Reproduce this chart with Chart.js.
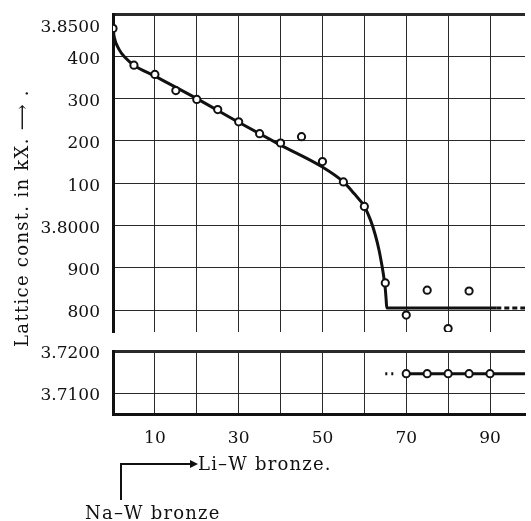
<!DOCTYPE html>
<html>
<head>
<meta charset="utf-8">
<script src="https://cdn.jsdelivr.net/npm/chart.js@4"></script>
<style>
    html, body { margin: 0; padding: 0; background: #fff; }
    #wrap { position: relative; width: 531px; height: 521px; overflow: hidden; font-family: 'DejaVu Serif', serif; color: #111; }
    #topBox { position: absolute; left: 0; top: 0; width: 531px; height: 340px; }
    #botBox { position: absolute; left: 0; top: 340px; width: 531px; height: 181px; }
    .txt { position: absolute; font-size: 18px; white-space: nowrap; line-height: 1; letter-spacing: 1.2px; }
    #yTitle { left: 22px; top: 218px; transform: translate(-50%, -50%) rotate(-90deg); letter-spacing: 1.3px; }
    #svgArrow { position: absolute; left: 0; top: 0; }
</style>
</head>
<body>
<div id="wrap">
    <div id="topBox"><canvas id="topChart"></canvas></div>
    <div id="botBox"><canvas id="botChart"></canvas></div>
    <div class="txt" id="yTitle">Lattice const. in kX. &#10230; .</div>
    <svg id="svgArrow" width="531" height="521">
        <polyline points="121,500 121,464 192,464" fill="none" stroke="#111" stroke-width="2"/>
        <polygon points="198,464 190,460 190,468" fill="#111"/>
    </svg>
    <div class="txt" style="left:198px; top:455px;">Li&#8211;W bronze.</div>
    <div class="txt" style="left:85px; top:504px;">Na&#8211;W bronze</div>
</div>
<script>
// composition axis (per cent Li-W bronze)
const xTicks = [0, 10, 20, 30, 40, 50, 60, 70, 80, 90];
const xTickLabels = ['', '10', '', '30', '', '50', '', '70', '', '90'];

// upper panel
const topTicks = [3.78, 3.79, 3.80, 3.81, 3.82, 3.83, 3.84, 3.85];
const topTickLabels = ['800', '900', '3.8000', '100', '200', '300', '400', '3.8500'];
const pointX = [0, 5, 10, 15, 20, 25, 30, 35, 40, 45, 50, 55, 60, 65, 70, 75, 80, 85];
const pointY = [3.8466, 3.8379, 3.8357, 3.8319, 3.8298, 3.8274, 3.8245, 3.8217, 3.8195, 3.8210,
    3.8151, 3.8103, 3.8045, 3.7864, 3.7788, 3.7847, 3.7756, 3.7845];
const curveX = [0, 0.3, 1.4, 2.9, 5, 10, 20, 30, 40, 50, 55, 57.5, 60, 61.5, 62.6, 63.5, 64.2, 64.7, 65.0, 65.2, 65.35, 91.5];
const curveY = [3.8466, 3.8445, 3.8417, 3.8397, 3.8379, 3.8353, 3.8300, 3.8244, 3.8190, 3.8138,
    3.8103, 3.8076, 3.8045, 3.8012, 3.7978, 3.7942, 3.7905, 3.7874, 3.7850, 3.7825, 3.7805, 3.7805];
const tailX = [91.5, 100];
const tailY = [3.7805, 3.7805];

// lower panel
const lowTicks = [3.71, 3.72];
const lowTickLabels = ['3.7100', '3.7200'];
const lowPointX = [70, 75, 80, 85, 90];
const lowPointY = [3.7146, 3.7146, 3.7146, 3.7146, 3.7146];
const lowLineX = [69.5, 100];
const lowLineY = [3.7146, 3.7146];
const lowDotX = [65, 67];
const lowDotY = [3.7146, 3.7146];

const X_MAX = 98.35;
const INK = '#111';
const GRID = '#2a2a2a';
const FONT = { family: "'DejaVu Serif', serif", size: 17 };

Chart.defaults.color = INK;
Chart.defaults.font.family = FONT.family;
Chart.defaults.font.size = FONT.size;

const pts = (xs, ys) => xs.map((x, i) => ({ x: x, y: ys[i] }));

function pointSet(xs, ys) {
    return {
        data: pts(xs, ys),
        showLine: false,
        pointRadius: 3.6,
        pointBorderWidth: 2,
        pointBackgroundColor: '#fff',
        pointBorderColor: INK,
        order: 0
    };
}

function lineSet(xs, ys, dash, extra) {
    return Object.assign({
        data: pts(xs, ys),
        showLine: true,
        pointRadius: 0,
        borderWidth: 3,
        borderColor: INK,
        borderDash: dash || [],
        order: 1
    }, extra || {});
}

function xScale(showLabels) {
    return {
        type: 'linear',
        min: 0,
        max: X_MAX,
        afterBuildTicks: s => { s.ticks = xTicks.map(v => ({ value: v })); },
        afterFit: s => {
            s.height = showLabels ? 107 : 8;
            s.paddingLeft = 0; s.paddingRight = 0;
        },
        grid: { color: GRID, lineWidth: 1, drawTicks: false },
        border: showLabels ? { display: true, width: 3, color: INK } : { display: false },
        ticks: {
            display: showLabels,
            autoSkip: false,
            maxRotation: 0,
            padding: 14,
            callback: v => xTickLabels[xTicks.indexOf(v)] || ''
        }
    };
}

function yScale(min, max, ticks, labels) {
    return {
        type: 'linear',
        min: min,
        max: max,
        afterBuildTicks: s => { s.ticks = ticks.map(v => ({ value: v })); },
        afterFit: s => {
            s.width = 113;
            s.paddingTop = 0; s.paddingBottom = 0;
        },
        grid: {
            color: GRID,
            drawTicks: false,
            lineWidth: c => (c.tick && Math.abs(c.tick.value - max) < 1e-6) ? 3 : 1
        },
        border: { display: true, width: 3, color: INK },
        ticks: {
            autoSkip: false,
            padding: 13,
            labelOffset: 3,
            callback: v => {
                const lab = labels[ticks.findIndex(t => Math.abs(t - v) < 1e-6)] || '';
                return lab === '3.8500' ? ['', lab] : lab;
            }
        }
    };
}

const baseOptions = (pad, x, y) => ({
    responsive: false,
    animation: false,
    layout: { padding: pad },
    plugins: { legend: { display: false }, tooltip: { enabled: false } },
    scales: { x: x, y: y }
});

function makeCanvas(id, h) {
    const c = document.getElementById(id);
    c.width = 531; c.height = h;
    c.style.width = '531px'; c.style.height = h + 'px';
    return c;
}

new Chart(makeCanvas('topChart', 340), {
    type: 'scatter',
    data: {
        datasets: [
            pointSet(pointX, pointY),
            lineSet(curveX, curveY, null, { cubicInterpolationMode: 'monotone' }),
            lineSet(tailX, tailY, [5, 3])
        ]
    },
    options: baseOptions({ top: 14, right: 0, bottom: 0, left: 0 },
        xScale(false), yScale(3.7748, 3.85, topTicks, topTickLabels))
});

new Chart(makeCanvas('botChart', 181), {
    type: 'scatter',
    data: {
        datasets: [
            pointSet(lowPointX, lowPointY),
            lineSet(lowLineX, lowLineY),
            lineSet(lowDotX, lowDotY, [2, 4])
        ]
    },
    options: baseOptions({ top: 11, right: 0, bottom: 0, left: 0 },
        xScale(true), yScale(3.705, 3.72, lowTicks, lowTickLabels))
});
</script>
</body>
</html>
